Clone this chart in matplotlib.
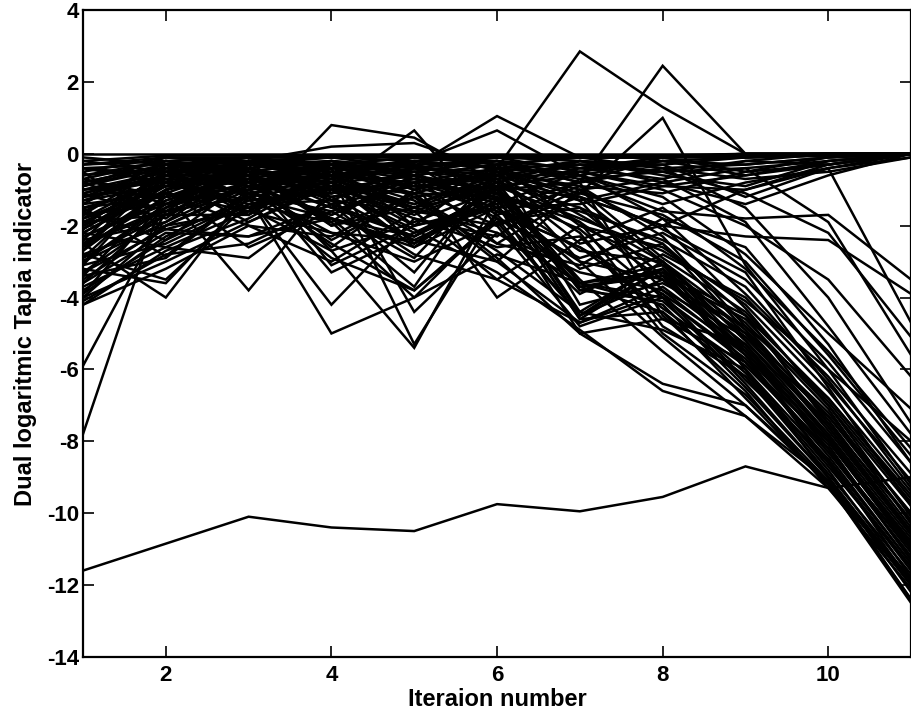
import matplotlib
matplotlib.use("Agg")
import matplotlib.pyplot as plt

plt.rcParams['font.family'] = ['Liberation Sans', 'DejaVu Sans']
plt.rcParams['font.weight'] = 'bold'
plt.rcParams['axes.unicode_minus'] = False

iterations = [1, 2, 3, 4, 5, 6, 7, 8, 9, 10, 11]
x_ticks = [2, 4, 6, 8, 10]
y_ticks = [-14, -12, -10, -8, -6, -4, -2, 0, 2, 4]

# near-zero (converged) runs
a01 = [0, 0, 0, 0, 0, 0, 0, 0, 0, 0, 0]
a02 = [-0.2, -0.05, -0.05, -0.05, -0.05, -0.05, -0.05, -0.05, -0.05, -0.05, 0]
a03 = [-0.5, -0.1, -0.1, -0.1, -0.1, -0.1, -0.1, -0.1, -0.1, -0.05, 0]
a04 = [-0.8, -0.3, -0.1, -0.05, -0.05, -0.1, -0.1, -0.05, -0.05, 0, 0]
a05 = [-1.2, -0.4, -0.2, -0.1, -0.05, -0.05, -0.1, -0.1, -0.05, 0, 0]
a06 = [-0.4, -0.6, -0.2, -0.3, -0.1, -0.1, -0.05, -0.05, -0.1, -0.05, 0]
a07 = [-1.6, -0.7, -0.3, -0.5, -0.2, -0.1, -0.1, -0.05, 0, 0, 0]
a08 = [-2.0, -0.5, -0.4, -0.2, -0.6, -0.3, -0.1, -0.1, -0.05, 0, 0]
a09 = [-0.3, -0.2, -0.6, -0.4, -0.3, -0.2, -0.4, -0.1, 0, 0, 0]
a10 = [-1.0, -0.8, -0.5, -0.7, -0.4, -0.5, -0.2, -0.3, -0.1, 0, 0]
a11 = [-2.5, -1.0, -0.3, -0.6, -0.8, -0.4, -0.6, -0.2, -0.3, -0.1, 0]
a12 = [-0.6, -0.4, -0.8, -0.3, -0.5, -0.7, -0.3, -0.5, -0.2, -0.3, 0]
a13 = [-1.4, -0.2, -0.1, -0.4, -0.2, -0.1, -0.5, -0.2, -0.6, -0.2, 0]
a14 = [-0.4, -0.3, -0.2, 0.2, 0.3, -0.5, -1.2, -2.0, -1.0, -0.3, 0]

# more runs hugging zero
e01 = [-0.1, -0.3, -0.5, -0.2, -0.4, -0.6, -0.3, -0.2, -0.1, 0, 0]
e02 = [-0.7, -0.2, -0.4, -0.8, -0.6, -0.3, -0.7, -0.5, -0.4, -0.2, 0]
e03 = [-1.8, -0.6, -0.2, -0.5, -0.9, -0.7, -0.5, -0.9, -0.6, -0.3, 0]
e04 = [-2.9, -0.8, -0.6, -0.3, -0.5, -0.2, -0.8, -0.4, -0.7, -0.5, -0.1]
e05 = [-3.4, -1.1, -0.3, -0.7, -0.3, -0.8, -0.2, -0.6, -0.9, -0.2, 0]
e06 = [-3.9, -1.3, -0.5, -0.9, -1.1, -0.5, -0.9, -1.1, -0.5, -0.1, 0]
e07 = [-2.1, -0.7, -0.8, -0.4, -0.7, -1.0, -0.4, -0.3, -1.2, -0.4, 0]
e08 = [-1.3, -0.9, -0.2, -0.6, -0.2, -0.4, -1.0, -0.7, -0.2, 0, 0]
e09 = [-0.9, -0.1, -0.3, -0.1, -0.4, -0.1, -0.2, -0.4, -0.3, -0.1, 0]
e10 = [-2.6, -0.4, -0.1, -0.3, -0.1, -0.3, -0.1, -0.1, 0, 0, 0]
e11 = [-3.1, -0.6, -0.9, -1.2, -0.8, -0.6, -1.3, -0.8, -1.4, -0.6, 0]
e12 = [-1.5, -1.2, -0.7, -0.3, -1.2, -0.9, -0.6, -1.4, -0.8, -0.4, -0.1]
e13 = [-0.2, -0.5, -0.1, -0.7, -0.1, -0.2, -0.8, -0.1, -0.5, -0.3, 0]
e14 = [-3.6, -1.5, -0.4, -1.0, -0.6, -1.4, -0.5, -1.0, -2.0, -3.5, -6.2]
e15 = [-2.4, -0.3, -1.2, -0.2, -1.0, -0.5, -1.1, -1.7, -3.0, -5.6, -8.4]
e16 = [-1.1, -0.6, -0.6, -1.1, -0.7, -1.3, -1.6, -2.4, -3.7, -6.3, -9.3]
e17 = [-3.0, -1.9, -0.8, -0.6, -1.5, -0.7, -2.5, -2.0, -4.3, -7.0, -10.1]
e18 = [-1.7, -1.4, -0.4, -1.4, -0.9, -1.1, -1.9, -3.5, -5.3, -7.9, -10.8]
e19 = [-2.0, -1.1, -1.6, -0.5, -1.1, -1.2, -3.2, -2.5, -4.9, -7.6, -10.5]
e20 = [-4.0, -2.0, -0.9, -1.7, -0.8, -1.5, -3.7, -3.4, -5.6, -8.6, -11.5]
e21 = [-0.4, -0.8, -1.5, -0.9, -1.4, -0.6, -1.3, -3.8, -5.1, -7.3, -10.0]
e22 = [-2.7, -0.5, -0.5, -1.9, -0.3, -1.7, -0.9, -2.3, -4.8, -6.8, -9.5]
e23 = [-3.3, -1.7, -1.7, -0.3, -2.0, -0.3, -2.0, -3.1, -5.4, -8.0, -11.0]
e24 = [-1.2, -0.9, -1.1, -0.7, -1.6, -2.0, -1.0, -2.1, -3.3, -6.5, -9.8]
e25 = [-2.5, -1.6, -0.2, -0.4, -0.6, -1.0, -0.2, -0.5, -1.1, -2.2, -5.1]

# runs with positive peaks
c_peak7 = [-2.2, -1.0, -0.6, -1.8, -3.7, -0.4, 2.85, 1.3, 0, 0, 0]
c_peak8 = [-0.9, -0.3, -1.2, -0.8, -1.5, -1.0, -0.8, 2.45, 0, 0, 0]
c_peak8b = [-3.0, -1.4, -0.5, -2.0, -1.2, -2.5, -1.1, 1.0, -3.1, -6.0, -9.2]
c_peak4 = [-2.8, -2.0, -1.6, 0.8, 0.45, -0.8, -1.5, -2.5, -4.5, -7.5, -10.2]
c_peak5 = [-1.8, -0.9, -0.7, -1.0, 0.65, -2.0, -1.2, -3.0, -5.2, -7.8, -11.0]
c_peak6 = [-0.7, -1.2, -0.4, -1.3, -0.35, 1.05, -0.1, -0.4, -1.5, -4.0, -7.5]
c_peak6b = [-1.1, -0.5, -0.9, -0.6, -0.25, 0.65, -0.6, -1.8, -2.6, -5.3, -8.6]

# runs with deep dips
d1 = [-2.5, -4.0, -1.0, -0.8, -2.0, -1.5, -3.0, -3.5, -5.5, -8.0, -10.8]
d2 = [-1.8, -1.1, -3.8, -1.0, -1.5, -2.2, -3.6, -4.0, -5.8, -8.3, -11.2]
d3 = [-3.2, -3.6, -1.2, -1.8, -2.6, -0.9, -3.8, -3.2, -6.0, -8.7, -11.5]
d4 = [-1.5, -2.85, -1.0, -2.5, -3.8, -1.8, -4.5, -3.5, -5.0, -7.2, -10.0]
d5 = [-2.2, -2.6, -2.9, -1.2, -2.4, -3.0, -4.7, -3.9, -6.3, -8.5, -11.8]
d6 = [-0.8, -1.6, -1.2, -5.0, -4.0, -2.8, -3.6, -4.2, -6.5, -9.0, -12.0]
d7 = [-1.0, -0.7, -1.5, -2.7, -5.4, -1.2, -4.6, -4.4, -6.8, -9.2, -12.5]

# decaying runs
b01 = [-3.0, -1.5, -0.8, -1.8, -2.3, -1.2, -4.6, -3.2, -5.5, -8.0, -11.0]
b02 = [-2.6, -1.2, -0.6, -1.5, -2.3, -1.0, -4.5, -3.0, -5.2, -7.6, -10.6]
b03 = [-3.5, -2.0, -1.0, -2.2, -2.4, -1.3, -3.7, -3.3, -5.8, -8.4, -11.4]
b04 = [-2.2, -0.9, -0.5, -1.0, -2.2, -1.1, -3.6, -3.1, -4.9, -7.3, -10.2]
b05 = [-1.9, -0.8, -1.4, -0.9, -1.7, -0.8, -3.8, -4.1, -6.1, -8.8, -11.9]
b06 = [-3.8, -2.4, -0.7, -2.6, -1.0, -2.0, -4.8, -4.0, -6.4, -9.0, -12.2]
b07 = [-4.2, -2.7, -1.8, -0.5, -0.9, -1.6, -2.6, -4.3, -5.9, -8.2, -11.1]
b08 = [-1.3, -0.6, -1.1, -2.9, -3.8, -1.9, -1.5, -3.4, -4.6, -7.0, -9.8]
b09 = [-2.9, -1.7, -0.4, -1.3, -2.8, -3.5, -2.0, -2.6, -4.2, -6.6, -9.4]
b10 = [-0.9, -0.4, -0.9, -1.7, -0.6, -2.5, -3.1, -1.8, -3.9, -6.2, -8.9]
b11 = [-3.3, -2.1, -1.5, -0.7, -1.4, -0.7, -2.2, -5.0, -6.7, -9.1, -12.4]
b12 = [-2.4, -1.9, -0.3, -3.1, -2.0, -1.4, -5.0, -4.6, -5.3, -7.9, -10.9]
b13 = [-1.6, -2.4, -1.3, -1.1, -0.5, -1.8, -2.9, -2.2, -3.5, -5.8, -8.6]
b14 = [-3.6, -2.2, -2.3, -1.4, -3.3, -0.6, -1.9, -4.8, -6.2, -8.6, -11.6]
b15 = [-0.7, -1.4, -0.8, -2.4, -1.2, -3.0, -1.0, -2.9, -4.4, -6.9, -9.7]
b16 = [-2.0, -0.5, -1.7, -0.4, -4.4, -2.2, -3.3, -3.8, -5.6, -8.1, -11.3]
b17 = [-1.1, -1.8, -0.2, -2.0, -1.5, -0.3, -4.2, -3.6, -4.8, -7.4, -10.4]
b18 = [-4.0, -3.0, -1.9, -0.8, -2.6, -1.5, -0.8, -4.5, -6.6, -9.3, -12.1]
b19 = [-2.7, -1.0, -2.6, -1.6, -0.8, -4.0, -2.4, -1.5, -3.2, -5.5, -8.2]
b20 = [-1.7, -0.3, -0.5, -2.7, -1.9, -1.0, -3.5, -5.5, -7.3, -9.3, -11.8]
b21 = [-3.1, -2.5, -1.4, -1.9, -4.0, -1.7, -3.9, -2.8, -4.0, -6.4, -9.1]
b22 = [-5.9, -1.6, -0.9, -0.6, -1.3, -2.7, -4.4, -4.9, -6.0, -8.5, -11.4]
b23 = [-7.8, -1.0, -0.4, -1.2, -0.7, -1.2, -2.7, -3.0, -5.0, -7.7, -10.6]
b24 = [-4.2, -3.2, -2.0, -3.0, -1.6, -3.5, -4.7, -3.7, -5.4, -7.8, -10.7]
b25 = [-0.5, -2.1, -2.3, -1.8, -2.5, -0.9, -1.2, -2.0, -2.3, -2.4, -3.9]
b26 = [-1.2, -0.7, -1.9, -0.9, -1.8, -2.3, -0.7, -1.6, -1.8, -1.7, -3.5]
b27 = [-2.3, -1.3, -0.6, -3.3, -2.2, -1.5, -1.4, -0.9, -1.0, -0.4, -4.7]
b28 = [-3.4, -2.9, -1.1, -1.6, -2.9, -0.5, -3.0, -5.1, -7.0, -9.1, -12.0]
b29 = [-1.4, -1.1, -2.0, -2.3, -1.1, -2.9, -5.0, -6.4, -7.0, -9.2, -12.4]
b30 = [-2.1, -0.8, -1.3, -1.0, -2.1, -3.3, -4.9, -6.6, -7.3, -9.1, -12.0]
b31 = [-0.8, -0.3, -0.7, -1.5, -0.4, -1.1, -2.1, -4.0, -5.7, -8.3, -11.0]
b32 = [-2.5, -1.5, -0.2, -0.3, -1.0, -0.4, -1.7, -3.0, -4.7, -7.1, -10.3]
b33 = [-3.7, -2.6, -1.6, -2.2, -3.0, -1.9, -4.5, -3.2, -5.1, -7.5, -10.5]
b34 = [-1.5, -0.9, -1.0, -0.5, -2.5, -1.3, -3.7, -4.4, -6.2, -8.9, -11.7]
b35 = [-2.8, -3.5, -1.4, -1.3, -1.6, -0.8, -3.6, -3.3, -4.5, -6.8, -9.6]
b36 = [-0.6, -0.2, -0.5, -0.8, -0.3, -0.9, -1.8, -2.7, -4.1, -6.0, -8.0]
b37 = [-3.9, -2.3, -1.2, -4.2, -1.8, -2.6, -2.3, -4.6, -5.8, -8.0, -10.9]
b38 = [-1.0, -0.5, -0.3, -0.2, -0.4, -0.2, -0.6, -1.2, -2.8, -5.0, -7.1]
b39 = [-2.3, -1.4, -1.0, -0.6, -5.3, -1.6, -2.6, -3.9, -5.5, -8.2, -11.3]
b40 = [-0.3, -0.1, -0.2, -0.1, -0.2, -0.4, -0.3, -0.8, -0.4, -1.9, -5.6]
b41 = [-1.9, -1.7, -0.9, -1.1, -0.5, -0.2, -0.4, -0.7, -1.9, -4.8, -7.8]
b42 = [-4.1, -2.8, -2.5, -1.4, -2.3, -1.0, -4.4, -3.0, -6.0, -9.0, -11.9]

# isolated lowest run
s_low = [-11.6, -10.85, -10.1, -10.4, -10.5, -9.75, -9.95, -9.55, -8.7, -9.3, -9.0]

all_series = [a01, a02, a03, a04, a05, a06, a07, a08, a09, a10, a11, a12, a13, a14,
              e01, e02, e03, e04, e05, e06, e07, e08, e09, e10, e11, e12, e13,
              e14, e15, e16, e17, e18, e19, e20, e21, e22, e23, e24, e25,
              c_peak7, c_peak8, c_peak8b, c_peak4, c_peak5, c_peak6, c_peak6b,
              d1, d2, d3, d4, d5, d6, d7,
              b01, b02, b03, b04, b05, b06, b07, b08, b09, b10, b11, b12, b13, b14,
              b15, b16, b17, b18, b19, b20, b21, b22, b23, b24, b25, b26, b27, b28,
              b29, b30, b31, b32, b33, b34, b35, b36, b37, b38, b39, b40, b41, b42,
              s_low]

fig = plt.figure(figsize=(9.12, 7.21), dpi=100)
ax = fig.add_axes([0.091, 0.089, 0.908, 0.897])

for s in all_series:
    ax.plot(iterations, s, color='black', lw=1.8, solid_joinstyle='miter')

ax.set_xlim(1, 11)
ax.set_ylim(-14, 4)
ax.set_xticks(x_ticks)
ax.set_yticks(y_ticks)
ax.tick_params(direction='in', length=8, width=1.2, top=True, right=True,
               labelsize=16)
ax.tick_params(axis='x', pad=6)
ax.tick_params(axis='y', pad=3)
for sp in ax.spines.values():
    sp.set_linewidth(1.6)
ax.set_xlabel('Iteraion number', fontsize=17, fontweight='bold', labelpad=1)
ax.set_ylabel('Dual logaritmic Tapia indicator', fontsize=17, fontweight='bold',
              labelpad=7)

fig.savefig('out.png', dpi=100)
